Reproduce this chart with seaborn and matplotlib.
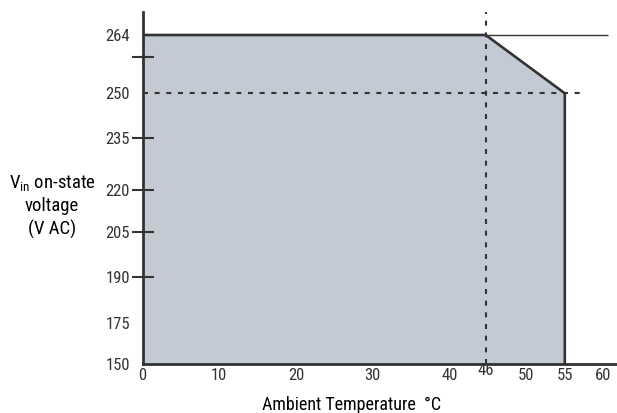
import numpy as np
import pandas as pd
import matplotlib
matplotlib.use("Agg")
import matplotlib.pyplot as plt
import seaborn as sns
from matplotlib import font_manager

# derating curve (outline of the shaded area)
temp = [0, 46, 55, 55]
vin = [264, 264, 250, 150]

# reference lines
limit_temp = 46
limit_vin = 250
max_vin = 264

# ticks
x_ticks = [0, 10, 20, 30, 40, 50, 55, 60]
y_ticks = [150, 175, 190, 205, 220, 235, 250, 264]
y_marks = [190, 205, 220, 235, 259]

# the source chart is schematic: axes are not linear
y_knots = [150, 175, 190, 205, 220, 235, 250, 259, 264, 275]
y_pos = [0, 41.6, 87.6, 132, 174.3, 226.6, 271, 307.6, 329.3, 352]
x_knots = [0, 40, 46, 50, 62]
x_pos = [0, 40, 44.7, 50, 62]

sns.set_style("white")
fonts = font_manager.fontManager.ttflist
names = {f.name for f in fonts}
font, stretch = "Roboto", "normal"
for cand in ["Liberation Sans Narrow", "Roboto Condensed", "Open Sans Condensed",
             "Noto Sans Condensed"]:
    if cand in names:
        font = cand
        break
else:
    if any(f.name == "DejaVu Sans" and f.stretch == "condensed" for f in fonts):
        font, stretch = "DejaVu Sans", "condensed"
plt.rcParams['font.family'] = [font, 'DejaVu Sans']
plt.rcParams['font.stretch'] = stretch
plt.rcParams['mathtext.fontset'] = 'custom'
plt.rcParams['mathtext.rm'] = font
plt.rcParams['mathtext.it'] = font

ink = '#333333'
fig = plt.figure(figsize=(6.17, 4.13), dpi=100)
ax = fig.add_axes([142.5 / 617, 48.7 / 413, 474.5 / 617, 352 / 413])
ax.set_axisbelow(False)

ax.set_yscale('function', functions=(lambda v: np.interp(v, y_knots, y_pos),
                                      lambda p: np.interp(p, y_pos, y_knots)))
ax.set_xscale('function', functions=(lambda v: np.interp(v, x_knots, x_pos),
                                      lambda p: np.interp(p, x_pos, x_knots)))

df = pd.DataFrame({'temp': temp, 'vin': vin})
ax.fill_between(temp, vin, 150, color='#c4cad3', lw=0, zorder=1)
sns.lineplot(data=df, x='temp', y='vin', sort=False, estimator=None,
             color=ink, lw=1.9, ax=ax, zorder=3)

ax.hlines(max_vin, limit_temp, 60.6, color=ink, lw=1.0, zorder=3)
ax.hlines(limit_vin, -0.3, 57.6, color=ink, lw=1.5, linestyles=(0, (2.4, 3.2)),
          clip_on=False, zorder=2)
ax.vlines(limit_temp, 150, 275, color=ink, lw=1.5, linestyles=(0, (2.4, 3.2)), zorder=2)

ax.set_xlim(0, 61.8)
ax.set_ylim(150, 275)

ax.set_xticks(x_ticks)
ax.set_xticklabels([str(t) for t in x_ticks])
ax.set_yticks(y_ticks)
ax.set_yticklabels([str(t) for t in y_ticks])
ax.set_yticks(y_marks, minor=True)
ax.yaxis.remove_overlapping_locs = False
ax.tick_params(axis='x', direction='in', length=8.6, width=1.5, color=ink,
               labelcolor=ink, labelsize=12, pad=3)
ax.tick_params(axis='y', which='major', length=0, pad=9, labelcolor=ink, labelsize=12)
ax.tick_params(axis='y', which='minor', direction='inout', length=16, width=1.5,
               color=ink, left=True)
ax.annotate(str(limit_temp), xy=(limit_temp, 0), xycoords=('data', 'axes fraction'),
            xytext=(0, -4.5), textcoords='offset points', ha='center', va='center',
            color=ink, fontsize=12)

for side in ['top', 'right']:
    ax.spines[side].set_visible(False)
for side in ['left', 'bottom']:
    ax.spines[side].set_color(ink)
    ax.spines[side].set_linewidth(2.0)
ax.set_xlabel('')
ax.set_ylabel('')

fig.text(352 / 617, 1 - 405 / 413, 'Ambient Temperature  °C', ha='center', va='center',
         fontsize=13, color='black')
fig.text(52 / 617, 1 - 206 / 413, 'V$_{\\mathrm{in}}$ on-state\nvoltage\n(V AC)',
         ha='center', va='center', fontsize=13.5, color='black', linespacing=1.3)

fig.savefig('out.png', dpi=100)
